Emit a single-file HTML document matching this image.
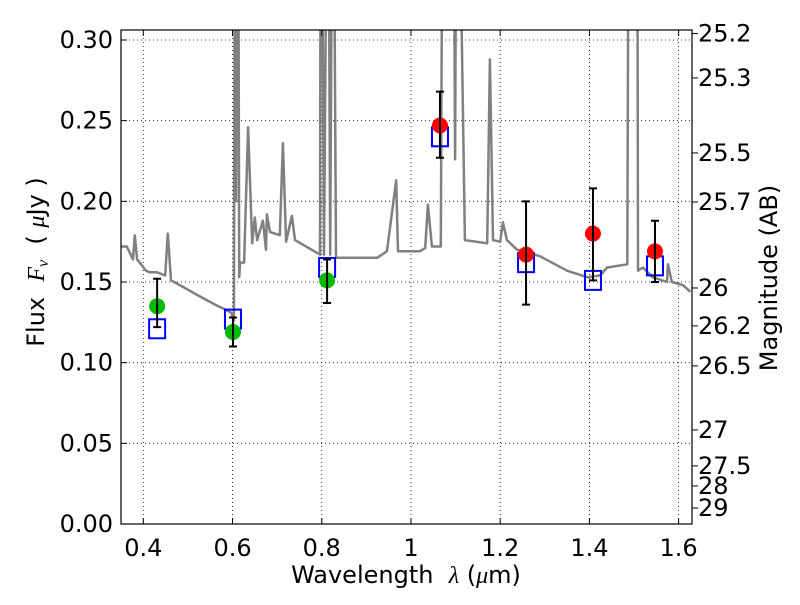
<!DOCTYPE html>
<html><head><meta charset="utf-8"><style>
body{margin:0;background:#fff}
svg text{font-family:"DejaVu Sans","Liberation Sans",sans-serif;fill:#000}
</style></head><body>
<svg id="chart" width="800" height="600" xmlns="http://www.w3.org/2000/svg">
<rect width="800" height="600" fill="#fff"/>
<defs><clipPath id="plotclip"><rect x="121" y="30" width="571" height="494"/></clipPath></defs>
<g id="grid"></g>
<g id="spec" clip-path="url(#plotclip)"></g>
<g id="marks" clip-path="url(#plotclip)"></g>
<rect x="121" y="30" width="571" height="494" fill="none" stroke="#000" stroke-width="1.2"/>
<g id="axes"></g>
<text x="44" y="262" font-size="24" text-anchor="middle" transform="rotate(-90 44 262)">Flux&#160;&#160;<tspan font-family="Liberation Serif,serif" font-style="italic">F<tspan font-size="16" dy="4">ν</tspan></tspan><tspan dy="-4">&#160;&#160;(&#160;</tspan><tspan font-family="Liberation Serif,serif" font-style="italic">μ</tspan>Jy&#160;)</text>
<text x="406" y="583" font-size="24" text-anchor="middle">Wavelength&#160;&#160;<tspan font-family="Liberation Serif,serif" font-style="italic">λ</tspan>&#160;(<tspan font-family="Liberation Serif,serif" font-style="italic">μ</tspan>m)</text>
<text x="777" y="278" font-size="24" text-anchor="middle" transform="rotate(-90 777 278)">Magnitude (AB)</text>
</svg>
<script>
const specWl=[0.350,0.363,0.377,0.381,0.386,0.395,0.406,0.415,0.431,0.449,0.455,0.462,0.482,0.527,0.561,0.583,0.597,0.603,0.606,0.608,0.612,0.615,0.617,0.626,0.635,0.644,0.650,0.655,0.668,0.675,0.677,0.684,0.706,0.713,0.720,0.733,0.740,0.796,0.798,0.805,0.814,0.819,0.825,0.832,0.857,0.924,0.946,0.967,0.971,0.998,1.020,1.032,1.038,1.047,1.067,1.072,1.094,1.099,1.103,1.121,1.171,1.177,1.184,1.200,1.206,1.215,1.238,1.289,1.350,1.395,1.424,1.440,1.485,1.489,1.507,1.509,1.520,1.542,1.574,1.576,1.585,1.610,1.626];
const specFlux=[0.172,0.172,0.164,0.179,0.164,0.161,0.157,0.156,0.156,0.154,0.180,0.151,0.148,0.141,0.136,0.133,0.131,0.126,0.5,0.2,0.5,0.153,0.162,0.162,0.246,0.174,0.190,0.176,0.188,0.170,0.192,0.181,0.179,0.236,0.175,0.191,0.176,0.167,0.5,0.167,0.5,0.167,0.5,0.165,0.165,0.165,0.169,0.213,0.169,0.169,0.169,0.171,0.198,0.172,0.172,0.5,0.5,0.226,0.5,0.176,0.174,0.288,0.176,0.175,0.187,0.176,0.170,0.166,0.157,0.153,0.154,0.159,0.161,0.5,0.5,0.157,0.159,0.153,0.150,0.161,0.150,0.148,0.144];
const ptWl=[0.431,0.601,0.812,1.065,1.258,1.408,1.547];
const ptFlux=[0.135,0.119,0.151,0.247,0.167,0.180,0.169];
const errLo=[0.122,0.110,0.137,0.227,0.136,0.151,0.150];
const errHi=[0.152,0.128,0.164,0.268,0.200,0.208,0.188];
const ptColor=['#00bb00','#00bb00','#00bb00','#ff0000','#ff0000','#ff0000','#ff0000'];
const modelWl=[0.431,0.601,0.812,1.065,1.258,1.408,1.547];
const modelFlux=[0.121,0.127,0.159,0.240,0.162,0.151,0.160];
const xTicks=[0.4,0.6,0.8,1.0,1.2,1.4,1.6];
const xTickLabels=['0.4','0.6','0.8','1','1.2','1.4','1.6'];
const yTicks=[0,0.05,0.10,0.15,0.20,0.25,0.30];
const yTickLabels=['0.00','0.05','0.10','0.15','0.20','0.25','0.30'];
const magFlux=[0.304,0.2765,0.230,0.1996,0.1463,0.1228,0.098,0.0583,0.036,0.0236,0.0099];
const magLabels=['25.2','25.3','25.5','25.7','26','26.2','26.5','27','27.5','28','29'];

const X0=121,X1=692,Y0=524,Y1=30,XMIN=0.35,XMAX=1.63,YMIN=0,YMAX=0.3062;
const xs=v=>X0+(v-XMIN)/(XMAX-XMIN)*(X1-X0);
const ys=v=>Y0-(v-YMIN)/(YMAX-YMIN)*(Y0-Y1);
const NS='http://www.w3.org/2000/svg';
function mk(parent,tag,attrs){const e=document.createElementNS(NS,tag);for(const k in attrs)e.setAttribute(k,attrs[k]);parent.appendChild(e);return e;}
const grid=document.getElementById('grid'),axes=document.getElementById('axes'),spec=document.getElementById('spec'),marks=document.getElementById('marks');

xTicks.forEach((t,i)=>{const x=xs(t);
 const g=mk(grid,'line',{x1:x,x2:x,y1:Y1,y2:Y0,stroke:'#000','stroke-width':0.8,'stroke-dasharray':'1,3'});
 
 
 const a=mk(axes,'line',{x1:x,x2:x,y1:Y0,y2:Y0-6,stroke:'#000'});
 
 
 const b=mk(axes,'line',{x1:x,x2:x,y1:Y1,y2:Y1+6,stroke:'#000'});
 
 
 const l=mk(axes,'text',{x:x,y:556,'font-size':24,'text-anchor':'middle'});l.textContent=xTickLabels[i];
 
 
});
yTicks.forEach((t,i)=>{const y=ys(t);
 const g=mk(grid,'line',{x1:X0,x2:X1,y1:y,y2:y,stroke:'#000','stroke-width':0.8,'stroke-dasharray':'1,3'});
 
 
 const a=mk(axes,'line',{x1:X0,x2:X0+6,y1:y,y2:y,stroke:'#000'});
 
 
 const l=mk(axes,'text',{x:113,y:y+8,'font-size':24,'text-anchor':'end'});l.textContent=yTickLabels[i];
 
 
});
magFlux.forEach((f,i)=>{const y=ys(f);
 const a=mk(axes,'line',{x1:X1,x2:X1+6,y1:y,y2:y,stroke:'#000'});
 
 
 const l=mk(axes,'text',{x:698,y:y+8,'font-size':24});l.textContent=magLabels[i];
 
 
});
const pts=specWl.map((w,i)=>xs(w).toFixed(1)+','+ys(specFlux[i]).toFixed(1)).join(' ');
const pl=mk(spec,'polyline',{points:pts,fill:'none',stroke:'#808080','stroke-width':2.5,'stroke-linejoin':'round'});


modelWl.forEach((w,i)=>{const x=xs(w),y=ys(modelFlux[i]);
 const r=mk(marks,'rect',{x:x-8,y:y-9.5,width:16,height:19,fill:'none',stroke:'#0000ff','stroke-width':2});
 
 
});
ptWl.forEach((w,i)=>{const x=xs(w);
 const c=mk(marks,'circle',{cx:x,cy:ys(ptFlux[i]),r:8,fill:ptColor[i]});
 
 
 const e=mk(marks,'path',{d:`M${x},${ys(errLo[i])}V${ys(errHi[i])}M${x-4},${ys(errLo[i])}h8M${x-4},${ys(errHi[i])}h8`,stroke:'#000','stroke-width':2,fill:'none'});
 
 
});
</script>
</body></html>
